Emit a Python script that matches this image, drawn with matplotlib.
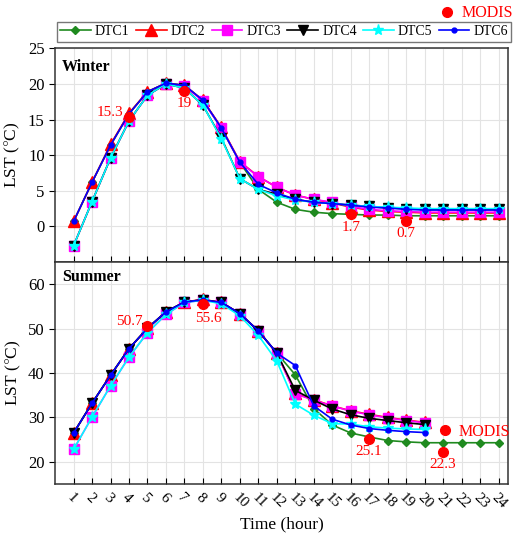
import matplotlib
import matplotlib.pyplot as plt
from matplotlib.lines import Line2D

matplotlib.use("Agg")

plt.rcParams['font.family'] = ['Liberation Serif', 'DejaVu Serif']
plt.rcParams['mathtext.fontset'] = 'stix'

hours = list(range(1, 25))
hour_labels = [str(h) for h in hours]

# winter LST, hours 1-24
w_dtc1 = [0.7, 6.2, 11.4, 15.8, 18.9, 20.1, 19.8, 17.7, 13.8, 9.0, 5.2, 3.4,
          2.4, 2.0, 1.8, 1.7, 1.6, 1.6, 1.5, 1.5, 1.5, 1.5, 1.5, 1.5]
w_dtc2 = [0.7, 6.2, 11.5, 15.9, 18.9, 20.1, 19.8, 17.7, 13.9, 9.1, 7.0, 5.5,
          4.4, 3.8, 3.3, 2.7, 2.3, 2.1, 2.0, 1.9, 1.9, 1.9, 1.9, 1.9]
w_dtc3 = [-2.7, 3.5, 9.6, 14.8, 18.4, 20.0, 19.7, 17.6, 13.8, 9.0, 7.0, 5.5,
          4.4, 3.8, 3.4, 2.8, 2.4, 2.2, 2.1, 2.0, 2.0, 2.0, 2.0, 2.0]
w_dtc4 = [-2.7, 3.5, 9.6, 14.8, 18.4, 20.0, 19.4, 17.0, 12.4, 6.7, 5.2, 4.5,
          3.8, 3.4, 3.2, 3.0, 2.8, 2.6, 2.5, 2.4, 2.4, 2.4, 2.4, 2.4]
w_dtc5 = [-2.7, 3.5, 9.6, 14.8, 18.4, 20.0, 19.4, 17.0, 12.3, 6.7, 5.2, 4.3,
          3.7, 3.4, 3.2, 3.0, 2.8, 2.7, 2.6, 2.5, 2.5, 2.5, 2.5, 2.5]
w_dtc6 = [0.7, 6.2, 11.4, 15.8, 18.9, 20.1, 19.8, 17.7, 13.8, 9.0, 5.9, 4.7,
          3.8, 3.4, 3.2, 3.0, 2.7, 2.6, 2.4, 2.3, 2.3, 2.3, 2.3, 2.3]

# summer LST, DTC1 hours 1-24, the others hours 1-20
s_dtc1 = [26.5, 33.2, 39.5, 45.5, 50.1, 53.8, 56.0, 56.5, 55.9, 53.4, 49.5, 44.5,
          39.6, 32.0, 28.3, 26.5, 25.6, 24.8, 24.5, 24.3, 24.3, 24.3, 24.3, 24.3]
s_dtc2 = [26.5, 33.2, 39.5, 45.5, 50.1, 53.8, 56.0, 56.6, 55.9, 53.4, 49.5, 44.5,
          35.4, 34.0, 32.6, 31.5, 30.7, 30.0, 29.4, 28.9]
s_dtc3 = [22.8, 30.1, 37.1, 43.6, 49.1, 53.2, 55.9, 56.4, 55.9, 53.4, 49.5, 44.5,
          35.3, 33.9, 32.6, 31.4, 30.6, 29.9, 29.3, 28.8]
s_dtc4 = [26.5, 33.2, 39.5, 45.5, 50.1, 53.8, 56.0, 56.5, 55.9, 53.4, 49.5, 44.5,
          36.1, 33.9, 31.9, 30.6, 29.8, 29.3, 28.8, 28.4]
s_dtc5 = [22.8, 30.1, 37.1, 43.6, 49.1, 53.2, 55.9, 56.4, 55.6, 52.9, 48.5, 42.7,
          33.0, 30.5, 28.6, 28.5, 27.9, 27.6, 27.4, 27.3]
s_dtc6 = [26.5, 33.2, 39.5, 45.5, 50.1, 53.8, 56.0, 56.5, 55.9, 53.4, 49.5, 44.5,
          41.7, 32.6, 29.6, 28.3, 27.5, 27.1, 26.8, 26.6]

# MODIS observations
w_modis_hours = [4, 7, 16, 19]
w_modis = [15.3, 19, 1.7, 0.7]
s_modis_hours = [5, 8, 17, 21]
s_modis = [50.7, 55.6, 25.1, 22.3]

styles = [
    ('DTC1', '#1f8a1f', 'D', 4.5),
    ('DTC2', 'red', '^', 8),
    ('DTC3', 'magenta', 's', 6.5),
    ('DTC4', 'black', 'v', 7),
    ('DTC5', 'cyan', '*', 8),
    ('DTC6', 'blue', 'o', 3.5),
]

fig = plt.figure(figsize=(5.3, 5.36), dpi=100)
ax1 = fig.add_axes([0.104, 0.511, 0.854, 0.399])
ax2 = fig.add_axes([0.104, 0.097, 0.854, 0.414])


def draw_panel(ax, series, m_hours, m_vals, m_offsets):
    for (name, color, marker, ms), vals in zip(styles, series):
        ax.plot(hours[:len(vals)], vals, color=color, marker=marker, markersize=ms,
                linewidth=1.2, label=name)
    ax.plot(m_hours, m_vals, 'o', color='red', markersize=7, linestyle='none')
    for h, v, (dx, dy) in zip(m_hours, m_vals, m_offsets):
        ax.text(h + dx, v + dy, f'{v:g}', color='red', fontsize=11,
                ha='center', va='center')
    ax.set_xlim(0, 24.5)
    ax.set_xticks(hours)
    ax.grid(True, color='#e3e3e3', linewidth=0.8)
    ax.set_axisbelow(True)
    ax.set_ylabel('LST ($\\degree$C)', fontsize=12.5)
    ax.tick_params(axis='x', direction='in', length=4)
    ax.tick_params(axis='y', direction='out', length=4, labelsize=12)
    for sp in ax.spines.values():
        sp.set_linewidth(1.1)
        sp.set_color('#333333')


draw_panel(ax1, [w_dtc1, w_dtc2, w_dtc3, w_dtc4, w_dtc5, w_dtc6],
           w_modis_hours, w_modis,
           [(-1.05, 0.7), (0, -1.8), (0, -1.8), (0, -1.65)])
ax1.set_ylim(-5, 25)
ax1.set_yticks([0, 5, 10, 15, 20, 25])
ax1.tick_params(axis='x', labelbottom=False)
ax1.text(0.015, 0.95, 'Winter', transform=ax1.transAxes, fontsize=11.5,
         fontweight='bold', va='top')

draw_panel(ax2, [s_dtc1, s_dtc2, s_dtc3, s_dtc4, s_dtc5, s_dtc6],
           s_modis_hours, s_modis,
           [(-1.0, 0.9), (0.3, -3.3), (0, -2.8), (0, -3.0)])
ax2.set_ylim(15, 65)
ax2.set_yticks([20, 30, 40, 50, 60])
ax2.set_xticklabels(hour_labels, rotation=-45, ha='left', rotation_mode='anchor',
                    fontsize=11)
ax2.tick_params(axis='x', pad=5)
ax2.set_xlabel('Time (hour)', fontsize=12.5, labelpad=4)
ax2.text(0.015, 0.97, 'Summer', transform=ax2.transAxes, fontsize=11.5,
         fontweight='bold', va='top')

modis_handle = Line2D([], [], color='red', marker='o', linestyle='none', markersize=7)
ax2.legend([modis_handle], ['MODIS'], loc='center left', bbox_to_anchor=(0.813, 0.235),
           frameon=False, fontsize=11.5, labelcolor='red', handletextpad=0.1,
           handlelength=1.5, borderpad=0.1)

handles, labels = ax1.get_legend_handles_labels()
fig.legend(handles[:6], labels[:6], loc='lower left', bbox_to_anchor=(0.107, 0.922, 0.858, 0.034),
           mode='expand', ncol=6, fontsize=10, frameon=True, fancybox=False,
           edgecolor='#555555', handlelength=2.2, handletextpad=0.3, columnspacing=0.4,
           borderpad=0.25, borderaxespad=0)
fig.legend([modis_handle], ['MODIS'], loc='lower right', bbox_to_anchor=(0.972, 0.957),
           frameon=False, fontsize=11.5, labelcolor='red', handletextpad=0.2,
           handlelength=1.5, borderpad=0.1, borderaxespad=0)

plt.savefig('out.png', dpi=100)
plt.close()
